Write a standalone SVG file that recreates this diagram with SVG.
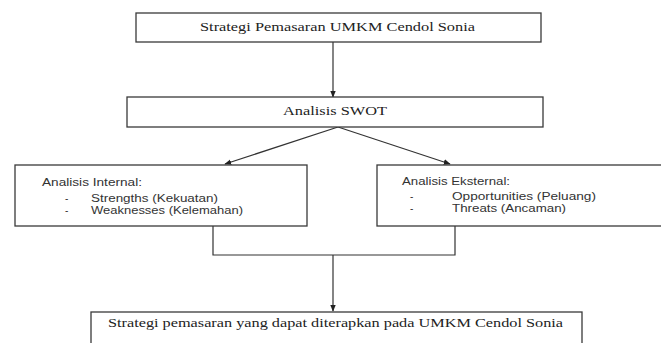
<svg xmlns="http://www.w3.org/2000/svg" width="661" height="343" viewBox="0 0 661 343">
<style>
.box{fill:#fff;stroke:#3a3a3a;stroke-width:1.3}
.ser{font-family:"Liberation Serif","Times New Roman",serif;font-size:12.5px;fill:#222}
.san{font-family:"Liberation Sans",Arial,sans-serif;font-size:10px;fill:#333}
.ln{fill:none;stroke:#333;stroke-width:1.2}
</style>
<defs>
<marker id="ah" viewBox="0 0 10 10" refX="9" refY="5" markerWidth="7" markerHeight="7" orient="auto" markerUnits="userSpaceOnUse">
<path d="M0,1 L10,5 L0,9 z" fill="#222"/>
</marker>
</defs>
<rect width="661" height="343" fill="#fff"/>
<g id="connectors">
<line class="ln" x1="333" y1="42" x2="333" y2="97" marker-end="url(#ah)"/>
<line class="ln" x1="338" y1="127" x2="225" y2="164" marker-end="url(#ah)"/>
<line class="ln" x1="338" y1="127" x2="450" y2="164" marker-end="url(#ah)"/>
<polyline class="ln" points="213,226 213,255 455,255 455,226"/>
<line class="ln" x1="333" y1="255" x2="333" y2="311" marker-end="url(#ah)"/>
</g>
<g id="node-top">
<rect class="box" x="136" y="13" width="405" height="29"/>
<text class="ser" x="200" y="31" textLength="275" lengthAdjust="spacingAndGlyphs">Strategi Pemasaran UMKM Cendol Sonia</text>
</g>
<g id="node-swot">
<rect class="box" x="127" y="97" width="416" height="30"/>
<text class="ser" x="283" y="115" textLength="104" lengthAdjust="spacingAndGlyphs">Analisis SWOT</text>
</g>
<g id="node-internal">
<rect class="box" x="15" y="165" width="292" height="61"/>
<text class="san" x="42" y="186" textLength="100" lengthAdjust="spacingAndGlyphs">Analisis Internal:</text>
<text class="san" x="65" y="202">-</text>
<text class="san" x="91" y="202" textLength="127" lengthAdjust="spacingAndGlyphs">Strengths (Kekuatan)</text>
<text class="san" x="65" y="214">-</text>
<text class="san" x="91" y="214" textLength="152" lengthAdjust="spacingAndGlyphs">Weaknesses (Kelemahan)</text>
</g>
<g id="node-external">
<rect class="box" x="377" y="165" width="300" height="61"/>
<text class="san" x="402" y="185" textLength="108" lengthAdjust="spacingAndGlyphs">Analisis Eksternal:</text>
<text class="san" x="410" y="200">-</text>
<text class="san" x="452" y="200" textLength="144" lengthAdjust="spacingAndGlyphs">Opportunities (Peluang)</text>
<text class="san" x="410" y="212">-</text>
<text class="san" x="452" y="212" textLength="114" lengthAdjust="spacingAndGlyphs">Threats (Ancaman)</text>
</g>
<g id="node-result">
<rect class="box" x="91" y="312" width="491" height="40"/>
<text class="ser" x="108" y="327" textLength="455" lengthAdjust="spacingAndGlyphs">Strategi pemasaran yang dapat diterapkan pada UMKM Cendol Sonia</text>
</g>
</svg>
